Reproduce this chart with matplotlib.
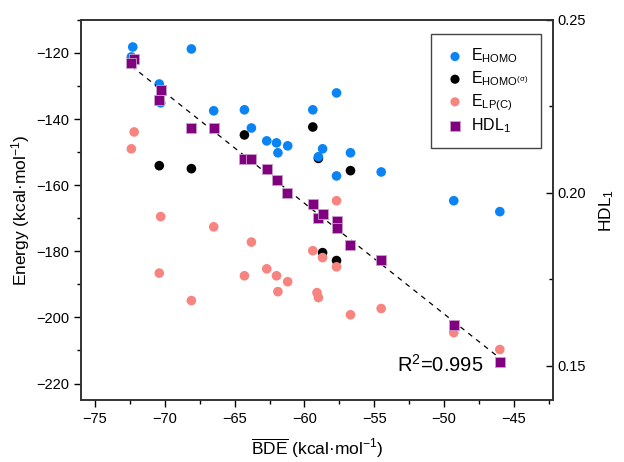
import numpy as np
import matplotlib
matplotlib.use("Agg")
import matplotlib.pyplot as plt
from matplotlib.ticker import MultipleLocator

plt.rcParams['font.family'] = ['Liberation Sans', 'DejaVu Sans']
plt.rcParams['mathtext.fontset'] = 'custom'
plt.rcParams['mathtext.rm'] = 'Liberation Sans'
plt.rcParams['mathtext.it'] = 'Liberation Sans:italic'
plt.rcParams['mathtext.default'] = 'regular'

# E_HOMO (blue)
homo_x = [-72.3, -72.4, -68.1, -70.4, -70.3, -66.5, -64.3, -63.8, -62.7, -62.0,
          -61.9, -61.2, -57.7, -59.4, -58.7, -59.0, -56.7, -57.7, -54.5, -49.3, -46.0]
homo_y = [-118.2, -121.2, -118.8, -129.4, -135.1, -137.5, -137.2, -142.7, -146.6, -147.2,
          -150.2, -148.1, -132.1, -137.2, -149.0, -151.4, -150.2, -157.2, -156.0, -164.7, -168.0]

# E_HOMO(sigma) (black)
sig_x = [-64.3, -70.4, -68.1, -59.4, -59.0, -56.7, -58.7, -57.7]
sig_y = [-144.8, -154.1, -155.0, -142.4, -151.9, -155.6, -180.4, -182.8]

# E_LP(C) (pink)
lp_x = [-72.2, -72.4, -70.3, -66.5, -63.8, -70.4, -68.1, -64.3, -62.7, -62.0, -61.9,
        -61.2, -57.7, -59.4, -58.7, -57.7, -59.1, -59.0, -56.7, -54.5, -49.3, -46.0]
lp_y = [-143.9, -149.0, -169.5, -172.6, -177.2, -186.6, -194.9, -187.4, -185.3, -187.4, -192.2,
        -189.2, -164.7, -179.8, -181.9, -184.7, -192.5, -194.0, -199.2, -197.3, -204.6, -209.7]

# HDL1 (purple, right axis)
hdl_x = [-72.2, -72.4, -70.3, -70.4, -68.1, -66.5, -64.3, -63.8, -62.7, -62.0,
         -61.25, -59.4, -59.0, -58.7, -57.7, -57.7, -56.7, -54.5, -49.3, -46.0]
hdl_y = [0.2386, 0.2376, 0.2298, 0.2269, 0.2188, 0.2188, 0.2098, 0.2098, 0.2069, 0.2038,
         0.2000, 0.1968, 0.1928, 0.1939, 0.1919, 0.1899, 0.1850, 0.1806, 0.1618, 0.1509]

fig = plt.figure(figsize=(6.24, 4.62), dpi=100)
ax = fig.add_axes([0.130, 0.134, 0.756, 0.823])
ax2 = ax.twinx()

ms = 48
h1 = ax.scatter(homo_x, homo_y, s=ms, color='#0A84F5', edgecolors='none', zorder=3)
h2 = ax.scatter(sig_x, sig_y, s=ms, color='black', edgecolors='none', zorder=2)
h3 = ax.scatter(lp_x, lp_y, s=ms, color='#F88480', edgecolors='none', zorder=2)

coef = np.polyfit(hdl_x, hdl_y, 1)
xl = np.array([min(hdl_x), max(hdl_x)])
ax2.plot(xl, np.polyval(coef, xl), ls=(0, (4, 4)), color='black', lw=0.9, zorder=1)
h4 = ax2.scatter(hdl_x, hdl_y, s=52, marker='s', color='#800080', edgecolors='#C9A0C9',
                 linewidths=0.6, zorder=3)

ax.set_xlim(-76, -42.2)
ax.set_ylim(-225, -110)
ax2.set_ylim(0.14, 0.25)

ax.xaxis.set_major_locator(MultipleLocator(5))
ax.xaxis.set_minor_locator(MultipleLocator(2.5))
ax.yaxis.set_major_locator(MultipleLocator(20))
ax.yaxis.set_minor_locator(MultipleLocator(10))
ax2.yaxis.set_major_locator(MultipleLocator(0.05))
ax2.yaxis.set_minor_locator(MultipleLocator(0.025))
ax2.yaxis.set_major_formatter(matplotlib.ticker.FormatStrFormatter('%.2f'))

ax.tick_params(axis='both', which='major', direction='out', length=5, width=1, labelsize=10.5)
ax.tick_params(axis='both', which='minor', direction='out', length=3, width=1)
ax.tick_params(axis='x', top=False, which='both')
ax2.tick_params(axis='y', which='major', direction='in', length=5, width=1, labelsize=10.5)
ax2.tick_params(axis='y', which='minor', direction='in', length=3, width=1)

for a in (ax, ax2):
    for sp in a.spines.values():
        sp.set_linewidth(1.2)
        sp.set_color('#333333')

ax.set_xlabel(r'$\overline{\mathrm{BDE}}$ (kcal·mol$^{-1}$)', fontsize=12.5, labelpad=8)
ax.set_ylabel(r'Energy (kcal·mol$^{-1}$)', fontsize=12.5, labelpad=3)
ax2.set_ylabel(r'HDL$_1$', fontsize=12.5, labelpad=8)

ax.text(0.76, 0.092, r'R$^{2}$=0.995', transform=ax.transAxes, ha='center', va='center',
        fontsize=14.5)

leg = ax.legend([h1, h2, h3, h4],
                [r'E$_{HOMO}$', r'E$_{HOMO^{(\sigma)}}$', r'E$_{LP(C)}$', r'HDL$_1$'],
                loc='upper right', bbox_to_anchor=(0.975, 0.963), borderaxespad=0,
                fontsize=11.5, frameon=True, fancybox=False, edgecolor='#444444',
                framealpha=1, borderpad=0.8, labelspacing=0.25, handletextpad=0.3,
                handlelength=1.4, markerscale=0.95)
leg.get_frame().set_linewidth(1.0)
leg.set_zorder(10)

fig.savefig('out.png', dpi=100)
